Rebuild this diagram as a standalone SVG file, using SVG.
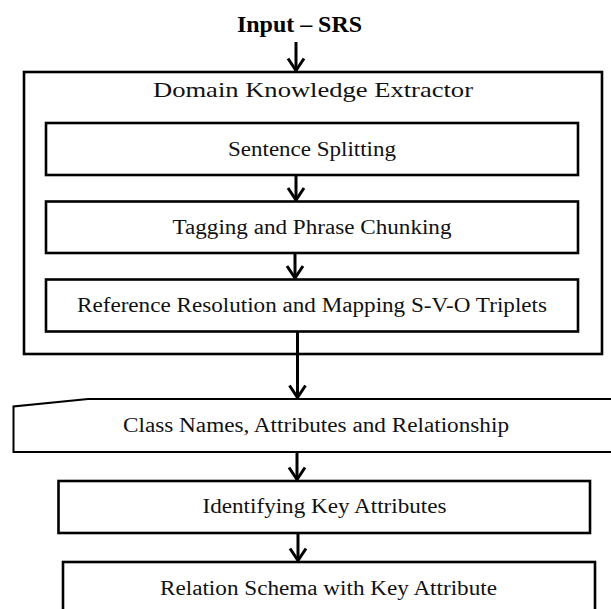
<svg xmlns="http://www.w3.org/2000/svg" width="611" height="609" viewBox="0 0 611 609">
<style>
.box{fill:#fff;stroke:#000;stroke-width:2.6}
.thin{fill:#fff;stroke:#000;stroke-width:2}
.t{font-family:"Liberation Serif","Times New Roman",serif;font-size:20px;fill:#111;text-anchor:middle}
.h{font-family:"Liberation Serif","Times New Roman",serif;font-size:21.5px;fill:#111;text-anchor:middle}
.b{font-family:"Liberation Serif","Times New Roman",serif;font-size:24px;font-weight:bold;fill:#000;text-anchor:middle}
.c{fill:none;stroke:#000;stroke-width:3}
</style>
<defs>
<marker id="arr" viewBox="-14 -10 16 20" refX="0" refY="0" markerWidth="16" markerHeight="20" markerUnits="userSpaceOnUse" orient="auto">
<path d="M-12,-8 L0,0 L-12,8" fill="none" stroke="#000" stroke-width="3"/>
</marker>
</defs>
<g id="input">
<text class="b" x="299.5" y="32" textLength="125" lengthAdjust="spacingAndGlyphs">Input – SRS</text>
</g>
<g id="extractor">
<rect class="box" x="24" y="72" width="578" height="282"/>
<text class="h" x="313" y="97" textLength="320" lengthAdjust="spacingAndGlyphs">Domain Knowledge Extractor</text>
</g>
<g id="sentence">
<rect class="box" x="46" y="123" width="532" height="52"/>
<text class="t" x="312" y="156" textLength="168" lengthAdjust="spacingAndGlyphs">Sentence Splitting</text>
</g>
<g id="tagging">
<rect class="box" x="46" y="201.5" width="532" height="51.5"/>
<text class="t" x="312" y="234" textLength="279" lengthAdjust="spacingAndGlyphs">Tagging and Phrase Chunking</text>
</g>
<g id="reference">
<rect class="box" x="46" y="279.5" width="532" height="52"/>
<text class="t" x="312" y="312" textLength="470" lengthAdjust="spacingAndGlyphs">Reference Resolution and Mapping S-V-O Triplets</text>
</g>
<g id="classnames">
<path class="thin" d="M620,399 L88,399 L13.5,406.5 L13.5,452 L620,452"/>
<text class="t" x="316" y="432" textLength="386" lengthAdjust="spacingAndGlyphs">Class Names, Attributes and Relationship</text>
</g>
<g id="identifying">
<rect class="box" x="58.5" y="481" width="531.5" height="52"/>
<text class="t" x="324.5" y="513" textLength="244" lengthAdjust="spacingAndGlyphs">Identifying Key Attributes</text>
</g>
<g id="relation">
<rect class="box" x="63" y="562" width="532" height="60"/>
<text class="t" x="328.5" y="595" textLength="337" lengthAdjust="spacingAndGlyphs">Relation Schema with Key Attribute</text>
</g>
<g id="connectors">
<path class="c" d="M296,42 V70.5" marker-end="url(#arr)"/>
<path class="c" d="M296,175 V200" marker-end="url(#arr)"/>
<path class="c" d="M295,253 V278" marker-end="url(#arr)"/>
<path class="c" d="M297.5,332 V397.5" marker-end="url(#arr)"/>
<path class="c" d="M297,452 V479.5" marker-end="url(#arr)"/>
<path class="c" d="M298,533 V560.5" marker-end="url(#arr)"/>
</g>
</svg>
